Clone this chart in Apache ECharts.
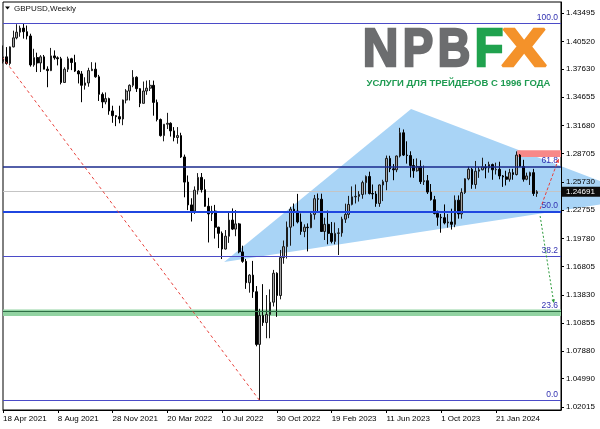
<!DOCTYPE html>
<html><head><meta charset="utf-8">
<script src="https://cdn.jsdelivr.net/npm/echarts@6/dist/echarts.min.js"></script>
<style>html,body{margin:0;padding:0;background:#fff}#c{width:600px;height:429px}</style>
</head><body><div id="c"></div>
<script>
// ---- data ----
const startDate = Date.UTC(2021, 3, 18);   // first weekly bar (Sunday)
const weekCount = 164;                      // bars incl. empty right shift
const monthNames = ['Jan','Feb','Mar','Apr','May','Jun','Jul','Aug','Sep','Oct','Nov','Dec'];

const opens = [1.3840,1.3890,1.3820,1.3995,1.4090,1.4150,1.4193,1.4155,1.4110,1.3805,1.3882,1.3826,1.3890,1.3760,1.3745,1.3900,1.3880,1.3870,1.3620,1.3760,1.3870,1.3830,1.3740,1.3710,1.3590,1.3615,1.3745,1.3760,1.3680,1.3495,1.3415,1.3450,1.3320,1.3270,1.3260,1.3235,1.3435,1.3530,1.3590,1.3675,1.3555,1.3400,1.3530,1.3560,1.3590,1.3410,1.3230,1.3060,1.3180,1.3190,1.3110,1.3040,1.3060,1.2835,1.2570,1.2330,1.2265,1.2485,1.2620,1.2490,1.2315,1.2235,1.2265,1.2095,1.2030,1.1865,1.2000,1.2170,1.2075,1.2130,1.1835,1.1735,1.1510,1.1590,1.1415,1.0860,1.1165,1.1090,1.1175,1.1305,1.1610,1.1375,1.1775,1.1890,1.2095,1.2285,1.2265,1.2150,1.2050,1.2095,1.2090,1.2230,1.2395,1.2390,1.2050,1.2125,1.2030,1.1945,1.2030,1.2035,1.2180,1.2230,1.2335,1.2415,1.2420,1.2440,1.2565,1.2630,1.2450,1.2445,1.2345,1.2540,1.2575,1.2820,1.2710,1.2700,1.2845,1.3090,1.2855,1.2850,1.2745,1.2690,1.2735,1.2575,1.2585,1.2465,1.2385,1.2240,1.2200,1.2195,1.2140,1.2150,1.2125,1.2380,1.2235,1.2460,1.2605,1.2705,1.2545,1.2685,1.2700,1.2730,1.2720,1.2755,1.2700,1.2705,1.2635,1.2625,1.2600,1.2670,1.2650,1.2855,1.2735,1.2600,1.2635,1.2670,1.2450];
const highs = [1.4010,1.3993,1.4000,1.4166,1.4234,1.4219,1.4244,1.4220,1.4134,1.3975,1.3934,1.3908,1.3910,1.3790,1.3984,1.3958,1.3895,1.3890,1.3780,1.3892,1.3880,1.3912,1.3750,1.3740,1.3675,1.3775,1.3834,1.3830,1.3700,1.3515,1.3515,1.3460,1.3375,1.3275,1.3375,1.3440,1.3550,1.3600,1.3750,1.3685,1.3560,1.3630,1.3640,1.3645,1.3640,1.3440,1.3240,1.3180,1.3300,1.3200,1.3150,1.3150,1.3090,1.2860,1.2640,1.2400,1.2525,1.2665,1.2666,1.2600,1.2405,1.2320,1.2330,1.2100,1.2050,1.2065,1.2245,1.2293,1.2275,1.2140,1.1900,1.1760,1.1600,1.1740,1.1475,1.1235,1.1495,1.1380,1.1440,1.1645,1.1620,1.1855,1.1955,1.2155,1.2310,1.2345,1.2446,1.2240,1.2125,1.2135,1.2245,1.2435,1.2450,1.2448,1.2195,1.2270,1.2150,1.2145,1.2085,1.2205,1.2343,1.2425,1.2525,1.2545,1.2475,1.2585,1.2640,1.2680,1.2545,1.2475,1.2545,1.2595,1.2850,1.2848,1.2760,1.2850,1.3142,1.3125,1.3000,1.2895,1.2815,1.2820,1.2800,1.2745,1.2645,1.2550,1.2425,1.2270,1.2235,1.2335,1.2235,1.2290,1.2430,1.2430,1.2505,1.2610,1.2733,1.2720,1.2793,1.2730,1.2827,1.2760,1.2785,1.2765,1.2775,1.2785,1.2645,1.2690,1.2710,1.2710,1.2894,1.2865,1.2805,1.2670,1.2680,1.2710,1.2485];
const lows = [1.3820,1.3808,1.3800,1.3990,1.4075,1.4102,1.4082,1.4074,1.3787,1.3786,1.3730,1.3730,1.3759,1.3570,1.3740,1.3860,1.3800,1.3600,1.3620,1.3730,1.3750,1.3730,1.3610,1.3412,1.3545,1.3575,1.3740,1.3670,1.3425,1.3350,1.3390,1.3280,1.3195,1.3160,1.3190,1.3170,1.3400,1.3430,1.3570,1.3520,1.3360,1.3400,1.3490,1.3530,1.3270,1.3210,1.3050,1.3000,1.3130,1.3050,1.3000,1.2975,1.2825,1.2410,1.2275,1.2155,1.2235,1.2440,1.2460,1.2310,1.1934,1.2160,1.1975,1.1875,1.1760,1.1860,1.1930,1.2065,1.2000,1.1820,1.1720,1.1445,1.1405,1.1350,1.0840,1.0267,1.1055,1.0925,1.0925,1.1260,1.1150,1.1335,1.1710,1.1765,1.1900,1.2105,1.2135,1.2015,1.1990,1.1840,1.2085,1.2175,1.2260,1.2045,1.1960,1.1915,1.1925,1.1915,1.1802,1.1995,1.2140,1.2190,1.2325,1.2345,1.2365,1.2395,1.2440,1.2440,1.2390,1.2310,1.2310,1.2370,1.2485,1.2675,1.2590,1.2675,1.2830,1.2845,1.2765,1.2620,1.2615,1.2680,1.2550,1.2540,1.2445,1.2375,1.2230,1.2110,1.2037,1.2125,1.2090,1.2070,1.2095,1.2185,1.2185,1.2445,1.2590,1.2500,1.2500,1.2615,1.2695,1.2610,1.2670,1.2595,1.2650,1.2600,1.2520,1.2535,1.2575,1.2595,1.2640,1.2730,1.2575,1.2590,1.2540,1.2425,1.2415];
const closes = [1.3890,1.3820,1.3995,1.4090,1.4150,1.4193,1.4155,1.4110,1.3805,1.3882,1.3826,1.3890,1.3760,1.3745,1.3900,1.3880,1.3870,1.3620,1.3760,1.3870,1.3830,1.3740,1.3710,1.3590,1.3615,1.3745,1.3760,1.3680,1.3495,1.3415,1.3450,1.3320,1.3270,1.3260,1.3235,1.3435,1.3530,1.3590,1.3675,1.3555,1.3400,1.3530,1.3560,1.3590,1.3410,1.3230,1.3060,1.3180,1.3190,1.3110,1.3040,1.3060,1.2835,1.2570,1.2330,1.2265,1.2485,1.2620,1.2490,1.2315,1.2235,1.2265,1.2095,1.2030,1.1865,1.2000,1.2170,1.2075,1.2130,1.1835,1.1735,1.1510,1.1590,1.1415,1.0860,1.1165,1.1090,1.1175,1.1305,1.1610,1.1375,1.1775,1.1890,1.2095,1.2285,1.2265,1.2150,1.2050,1.2095,1.2090,1.2230,1.2395,1.2390,1.2050,1.2125,1.2030,1.1945,1.2030,1.2035,1.2180,1.2230,1.2335,1.2415,1.2420,1.2440,1.2565,1.2630,1.2450,1.2445,1.2345,1.2540,1.2575,1.2820,1.2710,1.2700,1.2845,1.3090,1.2855,1.2850,1.2745,1.2690,1.2735,1.2575,1.2585,1.2465,1.2385,1.2240,1.2200,1.2195,1.2140,1.2150,1.2125,1.2380,1.2235,1.2460,1.2605,1.2705,1.2545,1.2685,1.2700,1.2730,1.2720,1.2755,1.2700,1.2705,1.2635,1.2625,1.2600,1.2670,1.2650,1.2855,1.2735,1.2600,1.2635,1.2670,1.2450,1.2469];

const yTickValues = [1.02015,1.04990,1.07880,1.10855,1.13830,1.16805,1.19780,1.22755,1.25730,1.28705,1.31680,1.34655,1.37630,1.40520,1.43495];
const lastPrice = 1.24691;
const fibHigh = 1.4244, fibLow = 1.0267;
const fibRatios = [0, 0.236, 0.382, 0.5, 0.618, 1];
const fibLabels = ['0.0','23.6','38.2','50.0','61.8','100.0'];
// annotation anchors: [bar index, price]
const triangle = [[64.6,1.1728],[119.2,1.3340],[187.3,1.2406]];
const resistBox = [[150.2,1.2906],[175,1.2836]];
const supportBand = [1.1228, 1.1159];
const trendLine = [[-7.6,1.4244],[75,1.0267]];
const upProjection = [[156.9,1.2287],[162.3,1.2814]];
const downProjection = [[156.9,1.2213],[160.9,1.1296]];

// ---- build ----
const categories = [];
for (let i = 0; i < weekCount; i++) {
  const d = new Date(startDate + i * 7 * 86400000);
  categories.push(d.getUTCDate() + ' ' + monthNames[d.getUTCMonth()] + ' ' + d.getUTCFullYear());
}
const candles = opens.map((o, i) => [o, closes[i], lows[i], highs[i]]);
const lastIndex = opens.length - 1;

const fibStyles = [
  {color:'#4b4bc8', width:1},
  {color:'#2d6e45', width:1},
  {color:'#4b4bc8', width:1},
  {color:'#1f46e0', width:2},
  {color:'#1a2a8c', width:1.5},
  {color:'#4b4bc8', width:1}
];

function toPx(api, pt) {
  const a = api.coord([0, pt[1]]);
  const b = api.coord([1, pt[1]]);
  return [a[0] + pt[0] * (b[0] - a[0]), a[1]];
}
function arrowHead(p1, p2, size, color) {
  const ang = Math.atan2(p2[1] - p1[1], p2[0] - p1[0]);
  const l = [p2[0] - size * Math.cos(ang - 0.45), p2[1] - size * Math.sin(ang - 0.45)];
  const r = [p2[0] - size * Math.cos(ang + 0.45), p2[1] - size * Math.sin(ang + 0.45)];
  return {type:'polygon', shape:{points:[p2, l, r]}, style:{fill:color}};
}
function crispY(y, w) { return (Math.round(w) % 2 === 1) ? Math.round(y - 0.5) + 0.5 : Math.round(y); }

const FONT = 'Liberation Sans, Arial, sans-serif';
const chart = echarts.init(document.getElementById('c'), null, {renderer:'canvas'});

const option = {
  animation: false,
  textStyle: {fontFamily: FONT},
  grid: {left:2, right:39, top:2, bottom:19, show:true, borderColor:'#000', borderWidth:1, backgroundColor:'#fff'},
  xAxis: {
    type:'category', data: categories, boundaryGap:false,
    axisLine:{show:true, lineStyle:{color:'#000', width:1}},
    axisTick:{show:true, length:3, lineStyle:{color:'#000'}, interval:(i)=> i % 16 === 0 && i <= lastIndex},
    axisLabel:{interval:(i)=> i % 16 === 0 && i <= lastIndex, align:'left', margin:5, fontSize:8, color:'#000', fontFamily:FONT},
    splitLine:{show:false}
  },
  yAxis: {
    type:'value', position:'right', min:1.01688, max:1.44680, z:10,
    axisLine:{show:true, lineStyle:{color:'#000', width:1}},
    axisTick:{show:true, length:3, customValues:yTickValues, lineStyle:{color:'#000'}},
    axisLabel:{customValues:yTickValues, formatter:(v)=> v.toFixed(5), margin:5, fontSize:8, color:'#000', fontFamily:FONT},
    splitLine:{show:false}
  },
  series: [
    {
      type:'custom', z:1, clip:false, silent:true, data:[[0, lastPrice]],
      renderItem:(params, api)=>({type:'polygon', shape:{points: triangle.map(p=>toPx(api,p))}, style:{fill:'#a9d4f6'}})
    },
    {
      type:'custom', z:1, clip:true, silent:true, data:[[0, lastPrice]],
      renderItem:(params, api)=>{
        const cs = params.coordSys;
        const y1 = api.coord([0, supportBand[0]])[1], y2 = api.coord([0, supportBand[1]])[1];
        const yp = crispY(api.coord([0, lastPrice])[1], 1);
        return {type:'group', children:[
          {type:'rect', shape:{x:cs.x, y:y1, width:cs.width, height:y2-y1}, style:{fill:'#92d3a2'}},
          {type:'line', shape:{x1:cs.x, y1:yp, x2:cs.x+cs.width, y2:yp}, style:{stroke:'#c4c4c4', lineWidth:1}}
        ]};
      }
    },
    {
      type:'custom', z:2, clip:true, silent:true, data:[[0, lastPrice]],
      renderItem:(params, api)=>{
        const a = toPx(api, resistBox[0]), b = toPx(api, resistBox[1]);
        return {type:'rect', shape:{x:a[0], y:a[1], width:b[0]-a[0], height:b[1]-a[1]}, style:{fill:'#f78888'}};
      }
    },
    {
      type:'candlestick', z:3, data: candles, barWidth:2.1,
      itemStyle:{color:'#a4a4a4', color0:'#000', borderColor:'#1c1c1c', borderColor0:'#000', borderWidth:1}
    },
    {
      type:'custom', z:4, clip:true, silent:true, data:[[0, lastPrice]],
      renderItem:(params, api)=>{
        const cs = params.coordSys;
        const x1 = cs.x, x2 = cs.x + cs.width;
        const kids = [];
        fibRatios.forEach((r, k)=>{
          const st = fibStyles[k];
          const y = crispY(api.coord([0, fibLow + r * (fibHigh - fibLow)])[1], st.width);
          kids.push({type:'line', shape:{x1:x1, y1:y, x2:x2, y2:y}, style:{stroke:st.color, lineWidth:st.width}});
          kids.push({type:'text', style:{text:fibLabels[k], x:x2-3, y:y-1.5, fill:'#3030b0', font:'8.5px '+FONT,
            textAlign:'right', textVerticalAlign:'bottom', align:'right', verticalAlign:'bottom'}});
        });
        return {type:'group', children:kids};
      }
    },
    {
      type:'custom', z:5, clip:true, silent:true, data:[[0, lastPrice]],
      renderItem:(params, api)=>{
        const t1 = toPx(api, trendLine[0]), t2 = toPx(api, trendLine[1]);
        const u1 = toPx(api, upProjection[0]), u2 = toPx(api, upProjection[1]);
        const d1 = toPx(api, downProjection[0]), d2 = toPx(api, downProjection[1]);
        return {type:'group', children:[
          {type:'line', shape:{x1:t1[0], y1:t1[1], x2:t2[0], y2:t2[1]}, style:{stroke:'#e8413c', lineWidth:1, lineDash:[3,3]}},
          {type:'line', shape:{x1:u1[0], y1:u1[1], x2:u2[0], y2:u2[1]}, style:{stroke:'#e8413c', lineWidth:1, lineDash:[3,2]}},
          arrowHead(u1, u2, 4, '#e8413c'),
          {type:'line', shape:{x1:d1[0], y1:d1[1], x2:d2[0], y2:d2[1]}, style:{stroke:'#2a9a3a', lineWidth:1, lineDash:[2,2]}},
          arrowHead(d1, d2, 4, '#2a9a3a')
        ]};
      }
    },
    {
      type:'custom', z:12, clip:false, silent:true, data:[[0, lastPrice]],
      renderItem:(params, api)=>{
        const cs = params.coordSys;
        const y = api.coord([0, lastPrice])[1];
        const x0 = cs.x + cs.width + 1;
        return {type:'group', children:[
          {type:'rect', shape:{x:x0, y:y-5, width:38, height:10}, style:{fill:'#0c0c0c'}},
          {type:'text', style:{text:lastPrice.toFixed(5), x:x0+4, y:y, fill:'#fff', font:'8px '+FONT,
            textAlign:'left', textVerticalAlign:'middle', align:'left', verticalAlign:'middle'}}
        ]};
      }
    }
  ],
  graphic: [
    {type:'polygon', shape:{points:[[5,6.5],[10,6.5],[7.5,9.5]]}, style:{fill:'#000'}, z:20},
    {type:'text', x:14, y:8.5, style:{text:'GBPUSD,Weekly', fill:'#111', font:'8px '+FONT,
      textAlign:'left', textVerticalAlign:'middle', align:'left', verticalAlign:'middle'}, z:20},
    {type:'text', x:380.5, y:51, scaleX:0.93, style:{text:'N', fill:'#6c6d6f', stroke:'#6c6d6f', lineWidth:2.5, font:'bold 53px '+FONT, textAlign:'center', textVerticalAlign:'middle', align:'center', verticalAlign:'middle'}, z:20},
    {type:'text', x:418, y:51, scaleX:0.86, style:{text:'P', fill:'#6c6d6f', stroke:'#6c6d6f', lineWidth:2.5, font:'bold 53px '+FONT, textAlign:'center', textVerticalAlign:'middle', align:'center', verticalAlign:'middle'}, z:20},
    {type:'text', x:454, y:51, scaleX:0.85, style:{text:'B', fill:'#6c6d6f', stroke:'#6c6d6f', lineWidth:2.5, font:'bold 53px '+FONT, textAlign:'center', textVerticalAlign:'middle', align:'center', verticalAlign:'middle'}, z:20},
    {type:'text', x:489, y:51, scaleX:0.88, style:{text:'F', fill:'#20a24e', stroke:'#20a24e', lineWidth:2.5, font:'bold 53px '+FONT, textAlign:'center', textVerticalAlign:'middle', align:'center', verticalAlign:'middle'}, z:20},
    {type:'text', x:524, y:51, scaleX:1.25, style:{text:'X', fill:'#f4922a', stroke:'#f4922a', lineWidth:2.5, font:'bold 53px '+FONT, textAlign:'center', textVerticalAlign:'middle', align:'center', verticalAlign:'middle'}, z:20},
    {type:'text', x:458.5, y:83.5, style:{text:'УСЛУГИ ДЛЯ ТРЕЙДЕРОВ С 1996 ГОДА', fill:'#1f9b52', font:'bold 9.5px '+FONT, textAlign:'center', textVerticalAlign:'middle', align:'center', verticalAlign:'middle'}, z:20}
  ]
};
chart.setOption(option);
</script></body></html>
